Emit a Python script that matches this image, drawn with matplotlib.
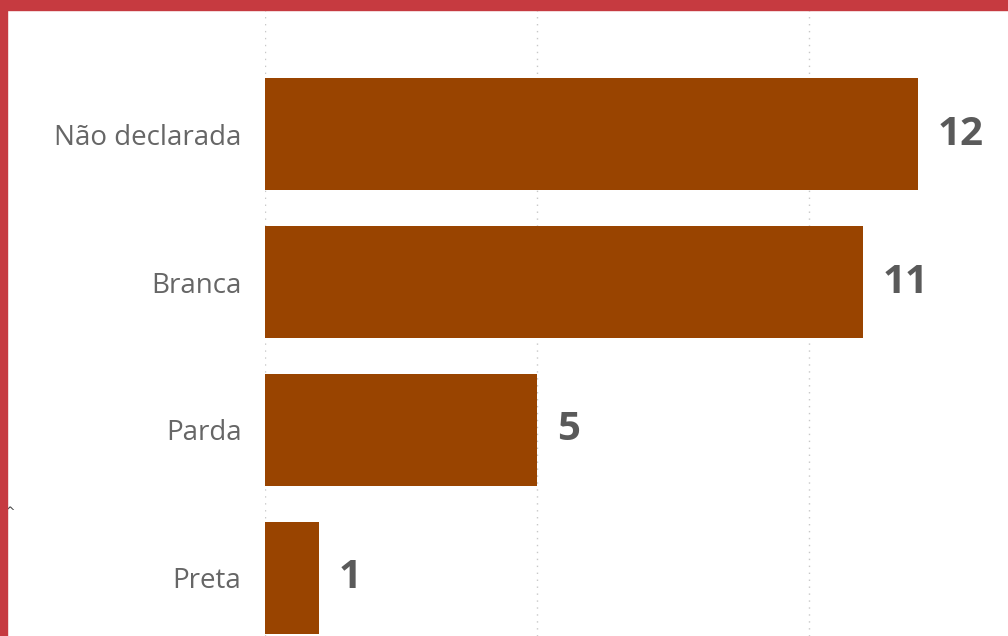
import numpy as np
import matplotlib.pyplot as plt
from matplotlib.patches import Rectangle

# data
categories = ['Não declarada', 'Branca', 'Parda', 'Preta']
values = [12, 11, 5, 1]

W, H = 1008, 636
fig = plt.figure(figsize=(W / 100, H / 100), dpi=100)
fig.patch.set_facecolor('white')

# red frame (top and left edges)
fig.patches.append(Rectangle((0, 1 - 10 / H), 1, 10 / H, transform=fig.transFigure,
                             color='#C63A40', zorder=10))
fig.patches.append(Rectangle((0, 0), 7 / W, 1, transform=fig.transFigure,
                             color='#C63A40', zorder=10))

ax_left, ax_top = 265, 10
ax = fig.add_axes([ax_left / W, 0, (W - ax_left) / W, (H - ax_top) / H])

px_per_unit = 54.4
ax.set_xlim(0, (W - ax_left) / px_per_unit)
ax.set_ylim(3.392, -0.838)

y = np.arange(len(categories))
ax.barh(y, values, height=0.757, color='#994400', zorder=2)

for yi, v in zip(y, values):
    ax.text(v + 0.36, yi, str(v), va='center', ha='left', fontsize=29,
            fontweight='bold', color='#5a5a5a', family=['Open Sans', 'DejaVu Sans'])

ax.set_yticks(y)
ax.set_yticklabels(categories, fontsize=20, color='#666666',
                   family=['Open Sans', 'DejaVu Sans'])
ax.tick_params(axis='y', length=0, pad=17)
ax.set_xticks([0, 5, 10])
ax.tick_params(axis='x', length=0, labelbottom=False)
ax.grid(axis='x', linestyle=(0, (1, 4)), color='#c8c8c8', linewidth=1, zorder=0)
for s in ax.spines.values():
    s.set_visible(False)

fig.text(10 / W, 1 - 512 / H, '^', fontsize=9, color='#444444', ha='center', va='center')

fig.savefig('out.png', dpi=100)
